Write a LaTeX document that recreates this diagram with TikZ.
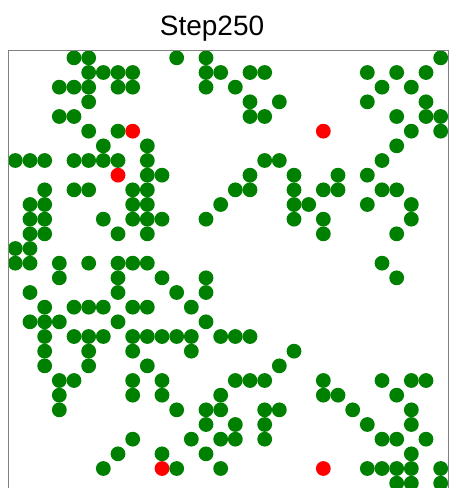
\documentclass[tikz,border=0pt]{standalone}
\usepackage{fontspec}
\setmainfont{Liberation Sans}
\definecolor{dotgreen}{RGB}{0,128,0}
\definecolor{dotred}{RGB}{255,0,0}
\definecolor{framegray}{RGB}{128,128,128}
\begin{document}
\begin{tikzpicture}[x=1pt,y=-1pt,
  greendot/.style={fill=dotgreen,draw=none},
  reddot/.style={fill=dotred,draw=none},
  axesframe/.style={draw=framegray,line width=0.9pt}]
\useasboundingbox (0,0) rectangle (451,488);
\clip (0,0) rectangle (451,488);
\pgfmathsetmacro{\cs}{14.667}
\node[font=\fontsize{28}{32}\selectfont,anchor=base,inner sep=0pt] (title) at (212,35) {Step250};
\foreach \r/\cols in {
 0/{4,5,11,13,29},
 1/{5,6,7,8,13,14,16,17,24,26,28},
 2/{3,4,5,7,8,13,15,25,27},
 3/{5,16,18,24,28},
 4/{3,4,16,17,26,28,29},
 5/{5,7,27,29},
 6/{6,9,26},
 7/{0,1,2,4,5,6,7,9,17,18,25},
 8/{9,10,16,19,22,24},
 9/{2,4,5,8,9,15,16,19,21,22,25,26},
 10/{1,2,8,9,14,19,20,24,27},
 11/{1,2,6,8,9,10,13,19,21,27},
 12/{1,2,7,9,21,26},
 13/{0,1},
 14/{0,1,3,5,7,8,9,25},
 15/{3,7,10,13,26},
 16/{1,7,11,13},
 17/{2,4,5,6,8,9,12},
 18/{1,2,3,7,13},
 19/{2,4,5,6,8,9,10,11,12,14,15,16},
 20/{2,5,8,12,19},
 21/{2,5,9,18},
 22/{3,4,8,10,15,16,17,21,25,27,28},
 23/{3,8,10,14,21,22,26},
 24/{3,11,13,14,17,18,23,27},
 25/{13,15,17,24,27},
 26/{8,12,14,15,17,25,26,28},
 27/{7,10,13,27},
 28/{6,11,14,24,25,26,27,29},
 29/{26,27,29}}{
  \foreach \c in \cols {
    \fill[greendot] ({8+\cs*(\c+0.5)},{50.5+\cs*(\r+0.5)}) circle (7.4);
  }
}
\foreach \r/\c in {5/8,5/21,8/7,28/10,28/21}{
  \fill[reddot] ({8+\cs*(\c+0.5)},{50.5+\cs*(\r+0.5)}) circle (7.4);
}
\draw[axesframe] (8,50.5) rectangle (448,490.5);
\end{tikzpicture}
\end{document}
